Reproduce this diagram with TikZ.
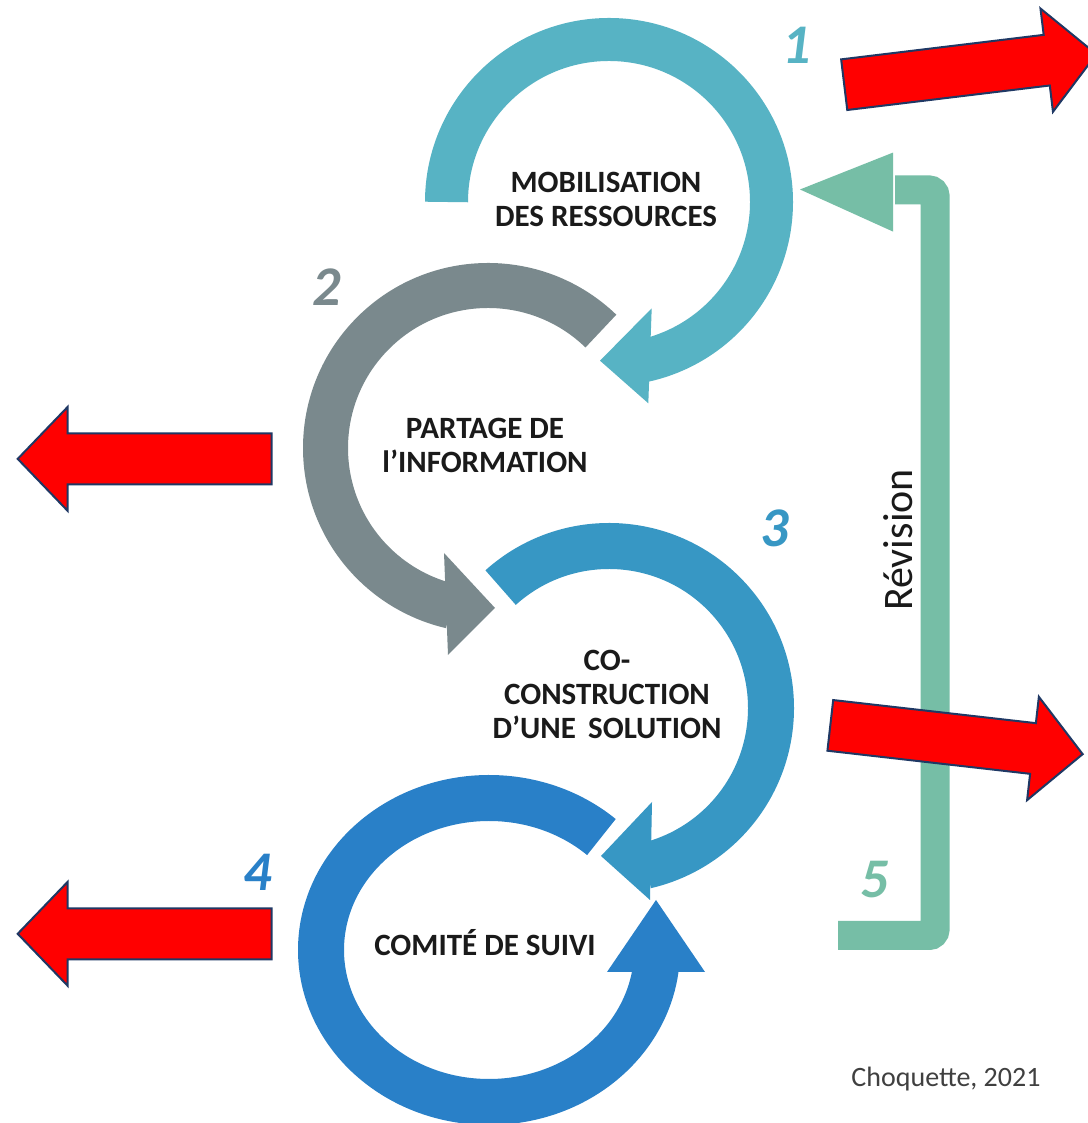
\documentclass[tikz,border=0pt]{standalone}
\usepackage{fontspec}
\setmainfont{Carlito}
\usepackage{tikz}
\definecolor{ringA}{RGB}{87,179,196}
\definecolor{ringB}{RGB}{122,137,141}
\definecolor{ringC}{RGB}{55,151,196}
\definecolor{ringD}{RGB}{41,128,200}
\definecolor{revgreen}{RGB}{118,190,166}
\definecolor{arrowedge}{RGB}{31,56,100}
\definecolor{txtdark}{RGB}{26,26,26}
\tikzset{
  redarrow/.style={
    fill=red,
    draw=arrowedge, line width=1pt,
    line join=miter},
  revline/.style={draw=revgreen, line width=14.5pt, rounded corners=3pt},
  stage/.style={
    font=\bfseries\fontsize{15.5}{17}\selectfont,
    text=txtdark,
    align=center},
  numlabel/.style={font=\bfseries\itshape\fontsize{28}{28}\selectfont},
}

\begin{document}
\begin{tikzpicture}[x=0.5pt, y=0.5pt]
\fill[white] (0,0) rectangle (1087,1123);
\useasboundingbox (0,0) rectangle (1087,1123);
\coordinate (c1) at (609,921);
\coordinate (c2) at (488,675);
\coordinate (c3) at (609,415);
\coordinate (c4) at (489,173);
% circular arrows
\foreach \c/\col/\w/\a/\b/\r in {c1/ringA/21.5/180/-77.5/162.5, c2/ringB/22.5/46/257/162.5, c3/ringC/23/132/-77/162}{
\draw[draw=\col, line width=\w pt] (\c) ++(\a:\r) arc[start angle=\a, end angle=\b, radius=\r];
}
\draw[draw=ringD, line width=23pt] (c4) ++(48:168 and 152) arc[start angle=48, end angle=353, x radius=168, y radius=152];
\fill[ringA] (651.7,814.7) -- (648.3,719.7) -- (600,762.3) -- cycle;
\fill[ringB] (444,570) -- (448,468) -- (495,515) -- cycle;
\fill[ringC] (652,321) -- (650,223) -- (601,267) -- cycle;
\fill[ringD] (607,151) -- (705,151) -- (656,223) -- cycle;
% revision loop
\coordinate (rev-top) at (895,933);
\coordinate (rev-bot) at (838,187.5);
\draw[revline] (rev-bot) -- (935,187.5) -- (935,933) -- (rev-top);
\fill[revgreen] (893,970.4) -- (800,933.5) -- (893,891.4) -- cycle;
% red block arrows
\foreach \x/\y/\ang in {844.2/1038.3/6.9, 830.3/397.6/-6.5, 271.7/664.1/180, 271.7/189.2/180}{
\draw[redarrow, shift={(\x,\y)}, rotate=\ang] (0,25.5) -- (204,25.5) -- (204,52) -- (254,0)
  -- (204,-52) -- (204,-25.5) -- (0,-25.5) -- cycle;
}
\node[stage] (mobil) at (606,924) {MOBILISATION\\DES RESSOURCES};
\node[stage] (partage) at (485,677.5) {PARTAGE DE\\l’INFORMATION};
\node[stage] (cocons) at (607,428.5) {CO-\\CONSTRUCTION\\D’UNE\, SOLUTION};
\node[stage] (comite) at (485,180) {COMITÉ DE SUIVI};
\node[rotate=90, font=\fontsize{21}{21}\selectfont, text=txtdark] (revision) at (898,583) {Révision};
\node[font=\fontsize{14}{14}\selectfont, text=black!75] (source) at (946,44) {Choquette, 2021};
\foreach \n/\col/\px/\py in {1/ringA/797/1078, 2/ringB/327/836, 3/ringC/775/595, 4/ringD/258/251, 5/revgreen/875/243}{
\node[numlabel, text=\col] (num\n) at (\px,\py) {\n};
}
\end{tikzpicture}
\end{document}
